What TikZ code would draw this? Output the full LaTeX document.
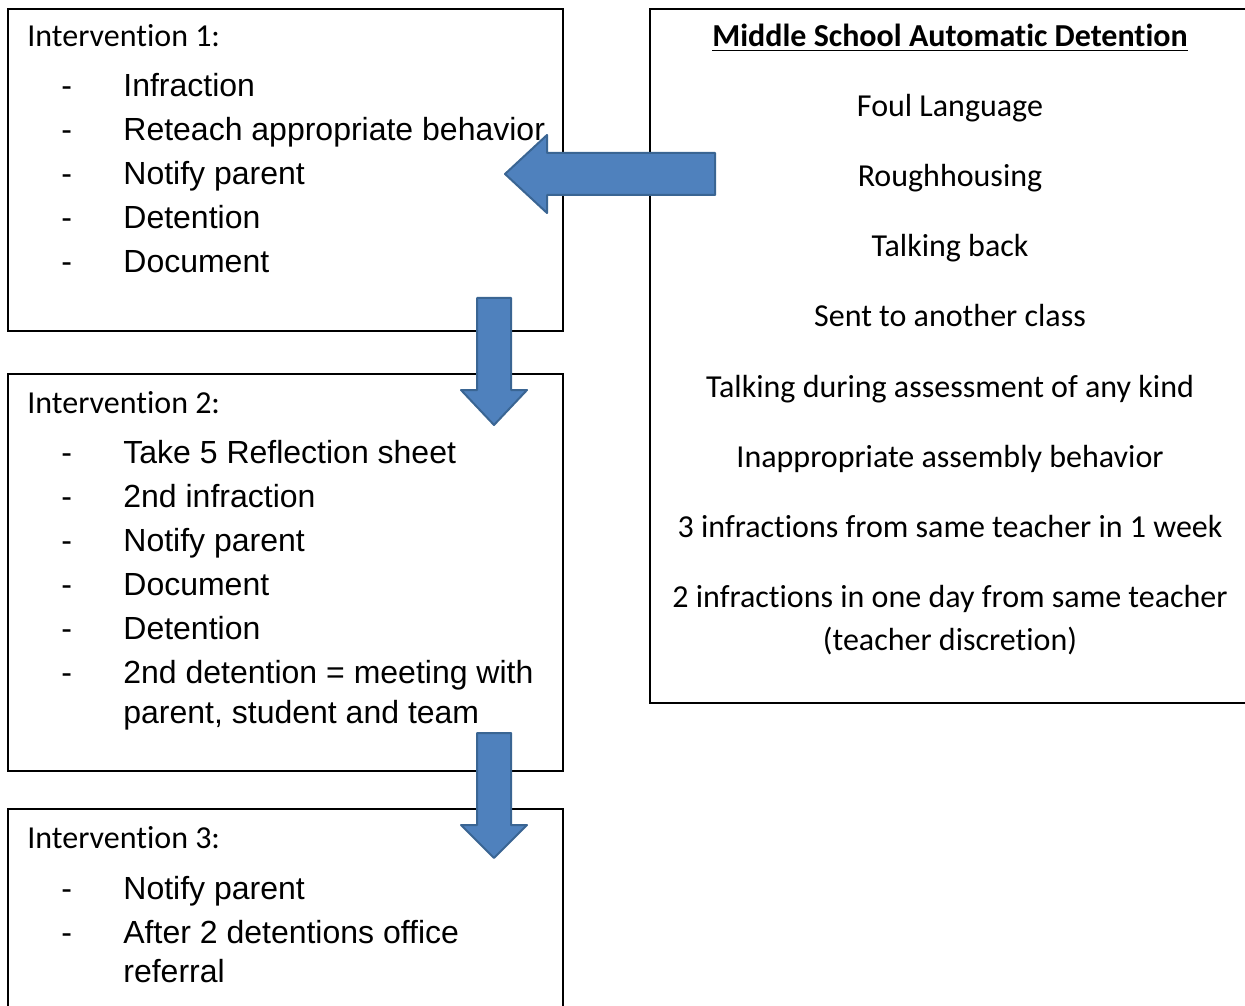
\documentclass[tikz,border=0pt]{standalone}
\usepackage{fontspec}
\setmainfont{Liberation Sans}
\newfontfamily\calibri[RawFeature={-liga;-clig;-calt;-dlig}]{Carlito}
\usetikzlibrary{calc}
\usetikzlibrary{fit}
\definecolor{arrowblue}{HTML}{4F81BD}
\definecolor{arrowedge}{HTML}{3A6593}
\newcommand{\bigarrow}[5]{% tail, tip, half shaft, half head, head length
  \draw[blockfill] ($(#1)!#3!90:(#2)$) -- ($(#2)!#5!(#1)!#3!90:(#2)$)
    -- ($(#2)!#5!(#1)!#4!90:(#2)$) -- (#2)
    -- ($(#2)!#5!(#1)!#4!-90:(#2)$) -- ($(#2)!#5!(#1)!#3!-90:(#2)$)
    -- ($(#1)!#3!-90:(#2)$) -- cycle;
}
\tikzset{box/.style={draw=black,line width=1pt,inner sep=0pt}}
\tikzset{
headtext/.style={anchor=base west,inner sep=0pt,font=\calibri\fontsize{16}{19}\selectfont},
dashmark/.style={anchor=base west,inner sep=0pt,font=\fontsize{16}{19}\selectfont},
item/.style={anchor=base west,inner sep=0pt,font=\fontsize{16}{19}\selectfont},
rule/.style={anchor=base,inner sep=0pt,font=\calibri\fontsize{16}{19}\selectfont},
blockfill/.style={fill=arrowblue,draw=arrowedge,line width=1pt,line join=round}
}
\begin{document}
\begin{tikzpicture}[x=0.5pt,y=-0.5pt]
\useasboundingbox (0,0) rectangle (1245,1005);
\clip (0,0) rectangle (1245,1005);

% boxes
\node[box,fit={(8,9)(563,331)}] (int1) {};
\node[box,fit={(8,374)(563,771)}] (int2) {};
\node[box,fit={(8,809)(563,1020)}] (int3) {};
\node[box,fit={(650,9)(1260,703)}] (auto) {};

% intervention 1
\node[headtext] (h1) at (27,47) {Intervention 1:};
\foreach \txt [count=\i] in {Infraction, Reteach appropriate behavior, Notify parent, Detention, Document}
 {
 \pgfmathsetmacro{\y}{97+44*(\i-1)}
 \node[dashmark] (d1-\i) at (61,\y) {-};
 \node[item] (a1-\i) at (123,\y) {\txt};
 }

% intervention 2
\node[headtext] (h2) at (27,413) {Intervention 2:};
\foreach \txt [count=\i] in {Take 5 Reflection sheet, 2nd infraction, Notify parent, Document, Detention, 2nd detention = meeting with}
 {
 \pgfmathsetmacro{\y}{463+44*(\i-1)}
 \node[dashmark] (d2-\i) at (61,\y) {-};
 \node[item] (a2-\i) at (123,\y) {\txt};
 }
\node[item] (a2-7) at (123,723) {parent, student and team};

% intervention 3
\node[headtext] (h3) at (27,848) {Intervention 3:};
\foreach \txt [count=\i] in {Notify parent, After 2 detentions office}
 {
 \pgfmathsetmacro{\y}{899+44*(\i-1)}
 \node[dashmark] (d3-\i) at (61,\y) {-};
 \node[item] (a3-\i) at (123,\y) {\txt};
 }
\node[item] (a3-3) at (123,982) {referral};

% automatic detention list
\node[rule] (title) at (950,47) {\bfseries\underline{Middle School Automatic Detention}};
\foreach \txt [count=\i] in {Foul Language, Roughhousing, Talking back, Sent to another class, Talking during assessment of any kind, Inappropriate assembly behavior, 3 infractions from same teacher in 1 week, 2 infractions in one day from same teacher}
 {
 \pgfmathsetmacro{\y}{117+70*(\i-1)}
 \node[rule] (r\i) at (950,\y) {\txt};
 }
\node[rule] (r9) at (950,650) {(teacher discretion)};

% arrows
\coordinate (t0) at (715,174);
\coordinate (p0) at (505,174);
\bigarrow{t0}{p0}{10.5pt}{19.5pt}{21pt}
\coordinate (t1) at (494,298);
\coordinate (p1) at (494,425);
\bigarrow{t1}{p1}{8.5pt}{16.5pt}{17.5pt}
\coordinate (t2) at (494,733);
\coordinate (p2) at (494,858);
\bigarrow{t2}{p2}{8.5pt}{16.5pt}{16.5pt}

\end{tikzpicture}
\end{document}
